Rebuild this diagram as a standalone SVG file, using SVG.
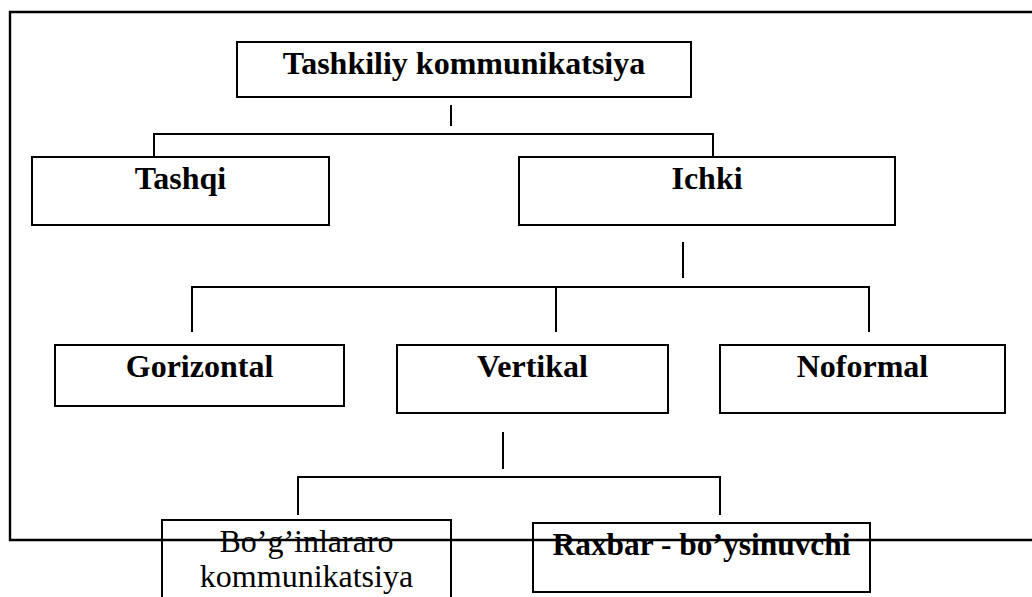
<svg xmlns="http://www.w3.org/2000/svg" width="1032" height="597" viewBox="0 0 1032 597">
  <style>
    .box { fill: none; stroke: #000; stroke-width: 2; }
    .wire { fill: none; stroke: #000; stroke-width: 2; }
    .frame { fill: none; stroke: #000; stroke-width: 2.4; }
    .lbl { font-family: "Liberation Serif", "Times New Roman", serif; font-size: 32px; fill: #000; text-anchor: middle; }
    .b { font-weight: bold; }
  </style>
  <rect width="1032" height="597" fill="#fff"/>

  <!-- open frame around the chart -->
  <path class="frame" d="M1032,12 H10 V540 H1032"/>

  <g id="connectors">
    <!-- root to first level -->
    <path class="wire" d="M451,105 V126"/>
    <path class="wire" d="M154,156 V134 H713 V156"/>
    <!-- Ichki to second level -->
    <path class="wire" d="M683,242 V278"/>
    <path class="wire" d="M192,332 V287 H869 V332"/>
    <path class="wire" d="M556,287 V332"/>
    <!-- Vertikal to third level -->
    <path class="wire" d="M503,432 V469"/>
    <path class="wire" d="M298,515 V477 H720 V515"/>
  </g>

  <g id="node-root">
    <rect class="box" x="237" y="42" width="454" height="55"/>
    <text class="lbl b" x="464" y="74">Tashkiliy kommunikatsiya</text>
  </g>

  <g id="node-tashqi">
    <rect class="box" x="32" y="157" width="297" height="68"/>
    <text class="lbl b" x="180.5" y="189">Tashqi</text>
  </g>

  <g id="node-ichki">
    <rect class="box" x="519" y="157" width="376" height="68"/>
    <text class="lbl b" x="707" y="189">Ichki</text>
  </g>

  <g id="node-gorizontal">
    <rect class="box" x="55" y="345" width="289" height="61"/>
    <text class="lbl b" x="199.5" y="377">Gorizontal</text>
  </g>

  <g id="node-vertikal">
    <rect class="box" x="397" y="345" width="271" height="68"/>
    <text class="lbl b" x="532.5" y="377">Vertikal</text>
  </g>

  <g id="node-noformal">
    <rect class="box" x="720" y="345" width="285" height="68"/>
    <text class="lbl b" x="862.5" y="377">Noformal</text>
  </g>

  <g id="node-boginlararo">
    <rect class="box" x="162" y="520" width="289" height="90"/>
    <text class="lbl" x="306.5" y="552">Bo’g’inlararo</text>
    <text class="lbl" x="306.5" y="587">kommunikatsiya</text>
  </g>

  <g id="node-raxbar">
    <rect class="box" x="533" y="523" width="337" height="69"/>
    <text class="lbl b" x="701.5" y="555" textLength="298" lengthAdjust="spacingAndGlyphs">Raxbar - bo’ysinuvchi</text>
  </g>
</svg>
